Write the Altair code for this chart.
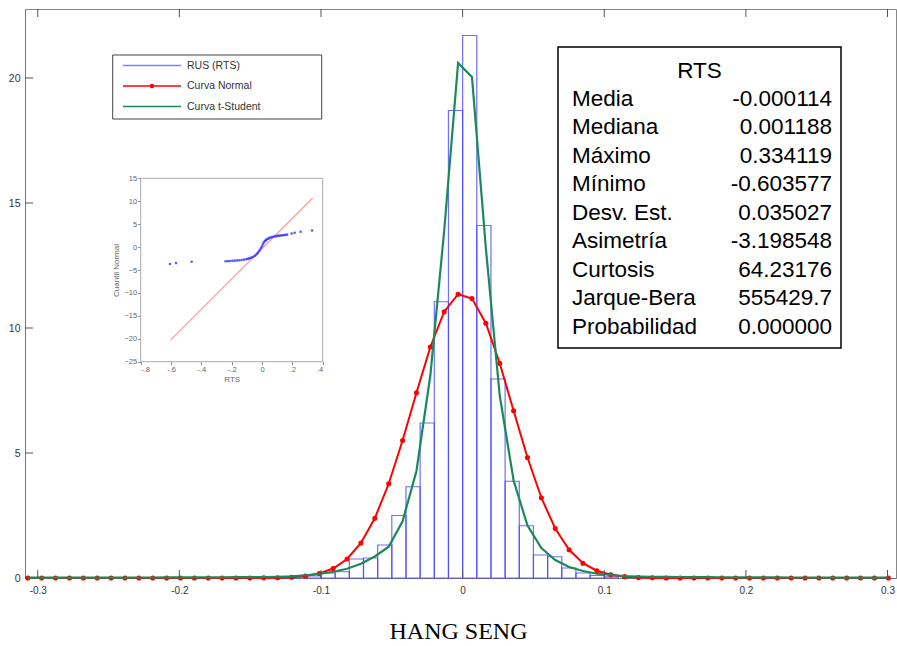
import altair as alt
import pandas as pd

# ---------------- data ----------------
bin_left = [-0.13, -0.12, -0.11, -0.10, -0.09, -0.08, -0.07, -0.06, -0.05, -0.04, -0.03, -0.02,
            -0.01, 0.00, 0.01, 0.02, 0.03, 0.04, 0.05, 0.06, 0.07, 0.08, 0.09, 0.10]
bin_height = [0.05, 0.05, 0.08, 0.20, 0.25, 0.76, 0.80, 1.32, 2.50, 3.65, 6.20, 11.05,
              18.70, 21.70, 14.10, 7.96, 3.87, 2.09, 0.92, 0.85, 0.40, 0.20, 0.10, 0.05]

grid_x = [-0.3070, -0.2972, -0.2874, -0.2776, -0.2678, -0.2580, -0.2482, -0.2384, -0.2286, -0.2188,
          -0.2090, -0.1992, -0.1894, -0.1796, -0.1698, -0.1600, -0.1502, -0.1404, -0.1306, -0.1208,
          -0.1110, -0.1012, -0.0914, -0.0816, -0.0718, -0.0620, -0.0522, -0.0424, -0.0326, -0.0228,
          -0.0130, -0.0032, 0.0066, 0.0164, 0.0262, 0.0360, 0.0458, 0.0556, 0.0654, 0.0752,
          0.0850, 0.0948, 0.1046, 0.1144, 0.1242, 0.1340, 0.1438, 0.1536, 0.1634, 0.1732,
          0.1830, 0.1928, 0.2026, 0.2124, 0.2222, 0.2320, 0.2418, 0.2516, 0.2614, 0.2712,
          0.2810, 0.2908, 0.3006]
normal_y = [0, 0, 0, 0, 0, 0, 0, 0, 0, 0,
            0, 0, 0, 0, 0, 0, 0, 0.006, 0.011, 0.030,
            0.076, 0.18, 0.38, 0.76, 1.40, 2.39, 3.77, 5.50, 7.41, 9.24,
            10.65, 11.35, 11.18, 10.19, 8.59, 6.69, 4.82, 3.21, 1.98, 1.13,
            0.59, 0.29, 0.13, 0.054, 0.021, 0.0075, 0, 0, 0, 0,
            0, 0, 0, 0, 0, 0, 0, 0, 0, 0,
            0, 0, 0]
tstudent_y = [0.015, 0.015, 0.016, 0.016, 0.017, 0.017, 0.018, 0.019, 0.020, 0.021,
              0.022, 0.024, 0.026, 0.028, 0.030, 0.033, 0.036, 0.040, 0.050, 0.070,
              0.11, 0.16, 0.25, 0.37, 0.57, 0.86, 1.25, 2.27, 4.28, 8.10,
              13.9, 20.6, 20.04, 13.2, 7.30, 3.90, 2.10, 1.20, 0.72, 0.44,
              0.28, 0.17, 0.12, 0.08, 0.06, 0.05, 0.045, 0.04, 0.035, 0.032,
              0.030, 0.028, 0.026, 0.024, 0.022, 0.021, 0.020, 0.019, 0.018, 0.017,
              0.016, 0.016, 0.015]

qq_x = [-0.607, -0.567, -0.464, -0.240, -0.225, -0.210, -0.195, -0.180, -0.165, -0.150,
        -0.135, -0.120, -0.105, -0.095, -0.085, -0.075, -0.065, -0.055, -0.045, -0.035,
        -0.028, -0.020, -0.013, -0.006, 0.000, 0.006, 0.012, 0.018, 0.024, 0.030,
        0.038, 0.046, 0.055, 0.065, 0.075, 0.085, 0.095, 0.105, 0.115, 0.125,
        0.135, 0.145, 0.155, 0.165, 0.195, 0.215, 0.255, 0.330]
qq_y = [-3.70, -3.50, -3.20, -3.10, -3.07, -3.03, -3.00, -2.96, -2.92, -2.87,
        -2.82, -2.75, -2.66, -2.58, -2.48, -2.36, -2.22, -2.05, -1.85, -1.55,
        -1.25, -0.90, -0.55, -0.15, 0.24, 0.65, 1.00, 1.28, 1.48, 1.62,
        1.80, 1.95, 2.08, 2.18, 2.26, 2.33, 2.39, 2.44, 2.49, 2.53,
        2.57, 2.61, 2.65, 2.70, 2.95, 3.10, 3.35, 3.60]
qq_line_x = [-0.6036, 0.3341]
qq_line_y = [-20.3, 10.7]

legend_labels = ["RUS (RTS)", "Curva Normal", "Curva t-Student"]
legend_colors = ["#7f7fff", "#ff0000", "#1b8a5a"]

stats_title = "RTS"
stats_labels = ["Media", "Mediana", "Máximo", "Mínimo", "Desv. Est.", "Asimetría",
                "Curtosis", "Jarque-Bera", "Probabilidad"]
stats_values = ["-0.000114", "0.001188", "0.334119", "-0.603577", "0.035027", "-3.198548",
                "64.23176", "555429.7", "0.000000"]

x_ticks = [-0.3, -0.2, -0.1, 0, 0.1, 0.2, 0.3]
y_ticks = [0, 5, 10, 15, 20]
inset_x_ticks = [-0.8, -0.6, -0.4, -0.2, 0, 0.2, 0.4]
inset_y_ticks = [-25, -20, -15, -10, -5, 0, 5, 10, 15]
caption = "HANG SENG"

# ---------------- layout / style ----------------
W, H = 871, 569
FONT = "Liberation Sans"
BLUE = "#4a4aff"
RED = "#ff0000"
GREEN = "#1b8a5a"

xs = alt.Scale(domain=[-0.309, 0.306], nice=False, zero=False)
ys = alt.Scale(domain=[0, 22.76], nice=False, zero=False)

hist = pd.DataFrame({"x0": bin_left,
                     "x1": [round(b + 0.01, 2) for b in bin_left],
                     "h": bin_height,
                     "z": [0.0] * len(bin_left)})
curves = pd.DataFrame({"x": grid_x, "normal": normal_y, "t": tstudent_y})

bars = alt.Chart(hist).mark_bar(fillOpacity=0, stroke=BLUE, strokeWidth=1.2, strokeOpacity=0.8).encode(
    x=alt.X("x0:Q", scale=xs,
            axis=alt.Axis(orient="bottom", values=x_ticks,
                          labelExpr="toString(round(datum.value*10)/10)",
                          tickSize=0, domainColor="#777", labelFont=FONT, labelFontSize=10,
                          labelColor="#333", labelPadding=7, grid=False, title=None)),
    x2="x1:Q",
    y=alt.Y("h:Q", scale=ys,
            axis=alt.Axis(orient="left", values=y_ticks, tickSize=0, domainColor="#777",
                          labelFont=FONT, labelFontSize=10.5, labelColor="#333",
                          labelPadding=5, grid=False, title=None)),
    y2="z:Q",
)

normal_line = alt.Chart(curves).mark_line(color=RED, strokeWidth=2).encode(
    x=alt.X("x:Q", scale=xs, axis=None), y=alt.Y("normal:Q", scale=ys, axis=None))
normal_pts = alt.Chart(curves).mark_circle(color=RED, size=26, opacity=1).encode(
    x=alt.X("x:Q", scale=xs, axis=None), y=alt.Y("normal:Q", scale=ys, axis=None))
t_line = alt.Chart(curves).mark_line(color=GREEN, strokeWidth=2.2).encode(
    x=alt.X("x:Q", scale=xs, axis=None), y=alt.Y("t:Q", scale=ys, axis=None))

xt_df = pd.DataFrame({"v": x_ticks})
yt_df = pd.DataFrame({"v": y_ticks[1:]})
tick_bottom = alt.Chart(xt_df).mark_rule(color="#555").encode(
    x=alt.X("v:Q", scale=xs, axis=None), y=alt.value(H - 8), y2=alt.value(H))
tick_top = alt.Chart(xt_df).mark_rule(color="#555").encode(
    x=alt.X("v:Q", scale=xs, axis=None), y=alt.value(0), y2=alt.value(8))
tick_left = alt.Chart(yt_df).mark_rule(color="#555").encode(
    y=alt.Y("v:Q", scale=ys, axis=None), x=alt.value(0), x2=alt.value(8))

# ---------------- inset Q-Q plot ----------------
IX0, IX1, IY0, IY1 = 115.7, 297.7, 352.7, 169.3
ix = alt.Scale(domain=[inset_x_ticks[0], inset_x_ticks[-1]], range=[IX0, IX1], nice=False, zero=False)
iy = alt.Scale(domain=[inset_y_ticks[0], inset_y_ticks[-1]], range=[IY0, IY1], nice=False, zero=False)

frame_df = pd.DataFrame({"x0": [inset_x_ticks[0]], "x1": [inset_x_ticks[-1]],
                         "y0": [inset_y_ticks[0]], "y1": [inset_y_ticks[-1]]})
inset_frame = alt.Chart(frame_df).mark_rect(fill="white", stroke="#aaa", strokeWidth=1).encode(
    x=alt.X("x0:Q", scale=ix,
            axis=alt.Axis(orient="bottom", offset=-(H - IY0), values=inset_x_ticks,
                          labelExpr="datum.value == 0 ? '0' : replace(toString(round(datum.value*10)/10), '0.', '.')",
                          tickSize=3, tickColor="#888", domain=False, labelFont=FONT,
                          labelFontSize=7.5, labelColor="#666", labelPadding=1, title="RTS",
                          titleFont=FONT, titleFontSize=8, titleFontWeight="normal",
                          titleColor="#666", titlePadding=2, grid=False)),
    x2="x1:Q",
    y=alt.Y("y0:Q", scale=iy,
            axis=alt.Axis(orient="left", offset=-IX0, values=inset_y_ticks, tickSize=3,
                          tickColor="#888", domain=False, labelFont=FONT, labelFontSize=7.5,
                          labelColor="#666", labelPadding=1, title="Cuantil Normal",
                          titleFont=FONT, titleFontSize=8, titleFontWeight="normal",
                          titleColor="#666", titlePadding=3, grid=False)),
    y2="y1:Q",
)
qq_line = alt.Chart(pd.DataFrame({"x": qq_line_x, "y": qq_line_y})).mark_line(
    color="#ff9c9c", strokeWidth=1.2).encode(
    x=alt.X("x:Q", scale=ix, axis=None), y=alt.Y("y:Q", scale=iy, axis=None))
qq_pts = alt.Chart(pd.DataFrame({"x": qq_x, "y": qq_y})).mark_circle(
    color="#2a2aff", size=7, opacity=0.75).encode(
    x=alt.X("x:Q", scale=ix, axis=None), y=alt.Y("y:Q", scale=iy, axis=None))

# ---------------- annotations (legend, stats box, caption) ----------------
LX0, LX1, LY0, LY1 = 87.7, 296.7, 46, 110
leg = pd.DataFrame({"label": legend_labels, "col": legend_colors,
                    "py": [56.5 + 20.5 * i for i in range(len(legend_labels))],
                    "sx0": [98.0] * 3, "sx1": [156.0] * 3, "tx": [162.0] * 3})
leg_box = alt.Chart(pd.DataFrame({"a": [LX0], "b": [LX1], "c": [LY0], "d": [LY1]})).mark_rect(
    fill="white", stroke="#444", strokeWidth=1).encode(
    x=alt.X("a:Q", scale=None), x2="b:Q", y=alt.Y("c:Q", scale=None), y2="d:Q")
leg_lines = alt.Chart(leg).mark_rule(strokeWidth=1.6).encode(
    x=alt.X("sx0:Q", scale=None), x2="sx1:Q", y=alt.Y("py:Q", scale=None),
    color=alt.Color("col:N", scale=None))
leg_dot = alt.Chart(leg.iloc[[1]]).mark_circle(size=22, opacity=1).encode(
    x=alt.value(127), y=alt.Y("py:Q", scale=None), color=alt.Color("col:N", scale=None))
leg_text = alt.Chart(leg).mark_text(align="left", baseline="middle", fontSize=10.5,
                                    font=FONT, color="#333").encode(
    x=alt.X("tx:Q", scale=None), y=alt.Y("py:Q", scale=None), text="label:N")

SX0, SX1, SY0, SY1 = 533, 816, 38, 339
st = pd.DataFrame({"label": stats_labels, "value": stats_values,
                   "py": [89.5 + 28.5 * i for i in range(len(stats_labels))],
                   "lx": [547.0] * len(stats_labels), "vx": [807.0] * len(stats_labels)})
st_box = alt.Chart(pd.DataFrame({"a": [SX0], "b": [SX1], "c": [SY0], "d": [SY1]})).mark_rect(
    fill="white", stroke="#000", strokeWidth=1.5).encode(
    x=alt.X("a:Q", scale=None), x2="b:Q", y=alt.Y("c:Q", scale=None), y2="d:Q")
st_title = alt.Chart(pd.DataFrame({"t": [stats_title], "px": [(SX0 + SX1) / 2], "py": [61.5]})).mark_text(
    align="center", baseline="middle", fontSize=22.5, font=FONT, color="#000").encode(
    x=alt.X("px:Q", scale=None), y=alt.Y("py:Q", scale=None), text="t:N")
st_lab = alt.Chart(st).mark_text(align="left", baseline="middle", fontSize=22.5, font=FONT,
                                 color="#000").encode(
    x=alt.X("lx:Q", scale=None), y=alt.Y("py:Q", scale=None), text="label:N")
st_val = alt.Chart(st).mark_text(align="right", baseline="middle", fontSize=22.5, font=FONT,
                                 color="#000").encode(
    x=alt.X("vx:Q", scale=None), y=alt.Y("py:Q", scale=None), text="value:N")

cap = alt.Chart(pd.DataFrame({"t": [caption], "px": [433.5], "py": [623.0]})).mark_text(
    align="center", baseline="middle", fontSize=24, font="Liberation Serif", color="#000").encode(
    x=alt.X("px:Q", scale=None), y=alt.Y("py:Q", scale=None), text="t:N")

chart = alt.layer(
    bars, normal_line, normal_pts, t_line, tick_bottom, tick_top, tick_left,
    inset_frame, qq_line, qq_pts,
    leg_box, leg_lines, leg_dot, leg_text, st_box, st_title, st_lab, st_val, cap,
).resolve_scale(x="independent", y="independent").properties(
    width=W, height=H,
    padding={"left": 25, "top": 9, "right": 1, "bottom": 68},
    autosize=alt.AutoSizeParams(type="none"),
    background="white",
).configure_view(stroke="#888", strokeWidth=1)

chart.save("out.html", embed_options={"renderer": "svg", "actions": False})
